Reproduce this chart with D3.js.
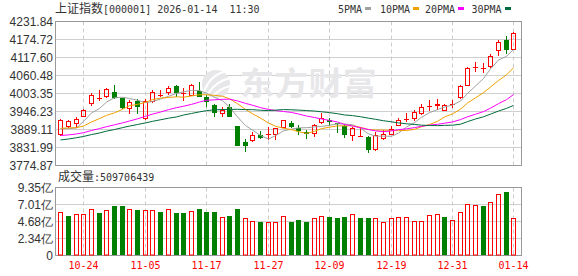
<!DOCTYPE html>
<html>
<head>
<meta charset="utf-8">
<script src="https://cdn.jsdelivr.net/npm/d3@7"></script>
<style>
  html, body { margin: 0; padding: 0; background: #fff; }
  svg { display: block; }
</style>
</head>
<body>
<svg id="chart" width="578" height="276"></svg>
<script>
// trading days shown (2025-10-21 .. 2026-01-14)
const dates = [
  "2025-10-21","2025-10-22","2025-10-23","2025-10-24","2025-10-27","2025-10-28","2025-10-29","2025-10-30","2025-10-31",
  "2025-11-03","2025-11-04","2025-11-05","2025-11-06","2025-11-07","2025-11-10","2025-11-11","2025-11-12","2025-11-13","2025-11-14",
  "2025-11-17","2025-11-18","2025-11-19","2025-11-20","2025-11-21","2025-11-24","2025-11-25","2025-11-26","2025-11-27","2025-11-28",
  "2025-12-01","2025-12-02","2025-12-03","2025-12-04","2025-12-05","2025-12-08","2025-12-09","2025-12-10","2025-12-11","2025-12-12",
  "2025-12-15","2025-12-16","2025-12-17","2025-12-18","2025-12-19","2025-12-22","2025-12-23","2025-12-24","2025-12-25","2025-12-26",
  "2025-12-29","2025-12-30","2025-12-31","2026-01-05","2026-01-06","2026-01-07","2026-01-08","2026-01-09","2026-01-12","2026-01-13","2026-01-14"
];

const openP = [3875.4,3899.7,3910.3,3932.5,3973.7,3988,3996,4009.7,3987.5,3957.9,3978,3926,3979,3998,4008.7,4028.7,4004,4000,4010.8,3991.7,
  3965.3,3942,3961,3899.7,3851,3855.3,3872,3874,3875.4,3897.6,3910.3,3894.4,3881,3878.6,3913.4,3918,3910,3901.8,3872.2,3869,
  3864.8,3827.8,3861.6,3876.4,3904,3922,3925.1,3942,3964,3967,3950.5,3970,3992.8,4031.9,4087,4084,4090.1,4142.5,4173.6,4145.1];
const highP = [3922.9,3920,3929.3,3953,4003.4,4012.9,4020.3,4028.8,3989.6,3981.2,3986.4,3985,4012.9,4016,4026.6,4030,4020,4035,4039.3,3999,
  3971.6,3961,3969.5,3900,3857.4,3882,3882.8,3897.6,3894,3917.7,3914.5,3903.9,3889,3907,3939.9,3926,3911,3908,3897.6,3897.6,
  3868,3881.7,3889,3899.7,3925,3939.9,3950.5,3968.5,3982.2,3985.4,3970,3984.3,4028.8,4086,4102.8,4098.6,4129.2,4172,4185.3,4198];
const lowP = [3872.2,3896,3897.6,3931,3967.4,3981.2,3992.8,3989.6,3957.9,3941,3940,3924,3976.9,3997,4003,3995,3984,3998,3994.9,3963.2,
  3931.4,3931.4,3931.4,3839,3820.4,3853,3862.7,3857.4,3859.5,3896,3897.6,3875.4,3861.6,3868,3911.3,3904,3881,3865.8,3855.3,3868,
  3818.3,3822.5,3859.5,3873.3,3902,3915.6,3918.7,3938.8,3950.5,3954.7,3950.5,3961,3989.6,4030.9,4074.2,4071.1,4088,4126,4131.4,4145.1];
const closeP = [3918.7,3916.6,3922.9,3951.5,3998,3990,4018,3991.7,3960,3976.9,3963.2,3980,4009.7,3999,4020.3,4008.7,4006,4031.9,3997,3978,
  3944.1,3950.5,3933.5,3839.4,3840.5,3872.2,3866,3876,3892.3,3917.7,3899.7,3886,3879,3903.9,3926.1,3917,3909,3876.4,3893.4,3870,
  3827.8,3872.2,3876.4,3891.2,3920.8,3923,3943.1,3961,3965,3969,3966,3971.6,4025.6,4084.8,4088,4084.8,4123.4,4166.8,4144,4194.3];
const prevClose = 3865.5; // close of the day before the first candle

// volume, in 亿
const volume = [6.05,5.50,5.73,5.73,6.42,5.91,6.19,6.87,6.87,6.42,6.32,6.32,6.32,6.05,6.42,5.91,5.91,6.14,6.37,6.05,
  6.05,5.32,5.50,6.46,5.09,4.77,4.67,4.54,4.54,5.45,4.67,4.95,4.54,5.09,5.50,5.36,5.09,5.36,5.73,5.09,
  5.22,5.22,4.67,5.18,5.32,5.32,4.81,4.81,5.59,5.73,5.36,4.95,6.00,7.10,6.97,6.74,7.42,8.48,8.80,5.10];

const ma5 = [3892,3892,3894,3915,3941.5,3955.8,3976.1,3989.8,3991.5,3987.3,3982,3974.4,3978,3985.8,3994.4,4003.5,4008.7,4013.2,4012.8,4004.3,
  3991.4,3980.3,3960.6,3929.1,3901.6,3887.2,3870.3,3858.8,3869.4,3884.8,3890.3,3894.3,3894.9,3897.3,3898.9,3902.4,3907,3906.5,3904.4,3893.2,
  3875.3,3868,3868,3867.5,3877.7,3896.7,3910.9,3927.8,3942.6,3952.2,3960.8,3966.5,3979.4,4003.4,4027.2,4051,4081.3,4109.6,4121.4,4142.7];
const ma10 = [3893,3894,3895,3900,3913,3923.8,3934,3941.9,3953.3,3964.4,3968.9,3975.3,3983.9,3988.7,3990.9,3992.8,3991.6,3995.6,3999.3,3999.4,
  3997.5,3994.5,3986.9,3971,3953,3939.3,3925.3,3909.7,3899.3,3893.2,3888.8,3882.3,3876.9,3883.4,3891.9,3896.4,3900.7,3900.7,3900.9,3896.1,
  3888.9,3887.5,3887.3,3886,3885.5,3886,3889.5,3897.9,3905.1,3915,3928.8,3938.7,3953.6,3973,3989.7,4005.9,4023.9,4044.5,4062.4,4085];
const ma20 = [3870,3872,3875,3879,3886,3892,3898,3904,3910,3916,3923,3931,3938,3944.5,3952.1,3958.4,3962.9,3968.8,3976.3,3981.9,
  3983.2,3984.9,3985.4,3979.9,3972,3966.1,3958.5,3952.7,3949.3,3946.3,3943.2,3938.4,3931.9,3927.2,3922.5,3917.9,3913,3905.2,3900.1,3894.7,
  3888.9,3884.9,3882.1,3884.7,3888.7,3891.2,3895.1,3899.3,3903,3905.6,3908.9,3913.1,3920.5,3929.5,3937.6,3946,3956.7,3971.2,3983.8,4000];
const ma30 = [3856,3859,3863,3867,3873,3878,3884,3889,3895,3900,3905,3910,3915,3920,3925,3929,3935,3940,3945,3949,
  3951.5,3952.5,3953,3953.2,3952.3,3952,3950.3,3949.1,3950.6,3952.3,3951.7,3950.7,3949.2,3947.7,3945.3,3942.8,3939.2,3935.3,3933.2,3929.6,
  3925.1,3921.4,3917,3913.5,3910.1,3907.2,3905.2,3902.8,3901.8,3901.4,3902.2,3902.8,3905.9,3914.1,3922.4,3929.4,3938,3947.7,3956.1,3965.4];

const priceTicks = [3774.87, 3831.99, 3889.11, 3946.23, 4003.35, 4060.48, 4117.60, 4174.72, 4231.84];
const volTicks = [0, 2.34, 4.68, 7.01, 9.35];
const xTickDates = ["2025-10-24","2025-11-05","2025-11-17","2025-11-27","2025-12-09","2025-12-19","2025-12-31","2026-01-14"];

const maNames = ["5PMA", "10PMA", "20PMA", "30PMA"];
const maColors = ["#a0a0a0", "#f0a000", "#ff00ff", "#006b3c"];

const RED = "#ff0000", GREEN = "#008000";
const MONO = "'DejaVu Sans Mono', 'Liberation Mono', monospace";
const CJK = "'Noto Sans CJK SC', sans-serif";
const SANS = "'Liberation Sans', Arial, sans-serif";

const svg = d3.select("#chart");

// layout
const plotL = 55.5, plotR = 521.5;
const mainTop = 21.5, mainBottom = 165.5;
const volTop = 187.5, volBottom = 255.5;

const x = d3.scaleBand().domain(dates).range([56.5, 56.5 + 7.68 * dates.length]);
const cx = d => Math.round(x(d) + x.bandwidth() / 2);

const y = d3.scaleLinear()
  .domain([priceTicks[0], priceTicks[priceTicks.length - 1]])
  .range([mainBottom, mainTop]);
const yv = d3.scaleLinear().domain([0, volTicks[volTicks.length - 1]]).range([volBottom, volTop]);
const snap = v => Math.round(v - 0.5) + 0.5;

// ---- grids
function grid(scale, ticks, top, bottom) {
  const g = svg.append("g");
  g.selectAll("line.h").data(ticks).join("line")
    .attr("x1", plotL).attr("x2", plotR)
    .attr("y1", d => snap(scale(d))).attr("y2", d => snap(scale(d)))
    .attr("stroke", "#cfcfcf");
  g.selectAll("line.v").data(xTickDates).join("line")
    .attr("x1", d => cx(d) + 0.5).attr("x2", d => cx(d) + 0.5)
    .attr("y1", top).attr("y2", bottom)
    .attr("stroke", "#cccccc").attr("stroke-dasharray", "4,3");
  // frame
  g.append("rect").attr("x", plotL).attr("y", top)
    .attr("width", plotR - plotL).attr("height", bottom - top)
    .attr("fill", "none").attr("stroke", "#999");
}
grid(y, priceTicks, mainTop, mainBottom);
grid(yv, volTicks, volTop, volBottom);

// ---- watermark (logo + name)
const WM = "#e7e7ea";
const wm = svg.append("g");
wm.append("circle").attr("cx", 216).attr("cy", 84).attr("r", 14).attr("fill", WM);
wm.append("path")
  .attr("d", "M204,92 C208,80 216,73 228,71 M206,97 C212,86 220,80 231,78 M210,99 C216,92 224,87 231,86")
  .attr("fill", "none").attr("stroke", "#fff").attr("stroke-width", 2.2);
wm.append("text").attr("x", 240).attr("y", 95).attr("fill", WM)
  .attr("font-family", CJK).attr("font-weight", "bold").attr("font-size", 32)
  .attr("textLength", 137).attr("lengthAdjust", "spacingAndGlyphs")
  .text("东方财富");

// ---- candles
const idx = d3.range(dates.length);
const candles = svg.append("g");
idx.forEach(i => {
  const c = cx(dates[i]);
  const up = closeP[i] >= openP[i];
  const col = up ? RED : GREEN;
  const yT = Math.round(y(Math.max(openP[i], closeP[i])));
  const yB = Math.round(y(Math.min(openP[i], closeP[i])));
  const yH = Math.round(y(highP[i]));
  const yL = Math.round(y(lowP[i]));
  if (up) {
    if (yH < yT) candles.append("line").attr("x1", c + 0.5).attr("x2", c + 0.5).attr("y1", yH).attr("y2", yT).attr("stroke", col);
    if (yL > yB) candles.append("line").attr("x1", c + 0.5).attr("x2", c + 0.5).attr("y1", yB + 1).attr("y2", yL + 1).attr("stroke", col);
    if (yB - yT >= 1) {
      candles.append("rect").attr("x", c - 1.5).attr("y", yT + 0.5)
        .attr("width", 4).attr("height", yB - yT)
        .attr("fill", "none").attr("stroke", col);
    } else {
      candles.append("rect").attr("x", c - 2).attr("y", yT).attr("width", 5).attr("height", 1).attr("fill", col);
    }
  } else {
    candles.append("line").attr("x1", c + 0.5).attr("x2", c + 0.5).attr("y1", yH).attr("y2", yL + 1).attr("stroke", col);
    candles.append("rect").attr("x", c - 2).attr("y", yT)
      .attr("width", 5).attr("height", Math.max(1, yB - yT + 1)).attr("fill", col);
  }
});

// ---- moving averages
const maSeries = [ma5, ma10, ma20, ma30];
const line = d3.line().x((d, i) => cx(dates[i]) + 0.5).y(d => y(d));
maSeries.forEach((s, k) => {
  svg.append("path").datum(s).attr("d", line)
    .attr("fill", "none").attr("stroke", maColors[k]).attr("stroke-width", 1);
});

// ---- volume bars (colour by change from previous close)
const vol = svg.append("g");
idx.forEach(i => {
  const c = cx(dates[i]);
  const ref = i === 0 ? prevClose : closeP[i - 1];
  const up = closeP[i] >= ref;
  const yTop = Math.round(yv(volume[i]));
  if (up) {
    vol.append("rect").attr("x", c - 1.5).attr("y", yTop + 0.5)
      .attr("width", 4).attr("height", volBottom - 0.5 - yTop - 0.5)
      .attr("fill", "none").attr("stroke", RED);
  } else {
    vol.append("rect").attr("x", c - 2).attr("y", yTop)
      .attr("width", 5).attr("height", volBottom - 0.5 - yTop).attr("fill", GREEN);
  }
});

// ---- y axes
const axisText = (g) => g.call(a => a.select(".domain").remove())
  .selectAll("text").attr("font-family", SANS).attr("font-size", 12).attr("fill", "#333");

svg.append("g").attr("transform", "translate(54,0)")
  .call(d3.axisLeft(y).tickValues(priceTicks).tickSize(0).tickPadding(1).tickFormat(d3.format(".2f")))
  .call(axisText);

svg.append("g").attr("transform", "translate(54,0)")
  .call(d3.axisLeft(yv).tickValues(volTicks).tickSize(0).tickPadding(1)
    .tickFormat(d => d === 0 ? "0" : d3.format(".2f")(d) + "亿"))
  .call(axisText);

// ---- x axis labels
svg.append("g").selectAll("text").data(xTickDates).join("text")
  .attr("x", d => cx(d) + 0.5).attr("y", 269)
  .attr("text-anchor", "middle")
  .attr("font-family", MONO).attr("font-size", 10).attr("fill", RED)
  .text(d => d.slice(5));

// ---- title and volume caption
const title = svg.append("text").attr("x", 55).attr("y", 13).attr("fill", "#333").attr("xml:space", "preserve");
title.append("tspan").attr("font-family", CJK).attr("font-size", 12).text("上证指数");
title.append("tspan").attr("font-family", MONO).attr("font-size", 10).text("[000001] 2026-01-14  11:30");

const cap = svg.append("text").attr("x", 58).attr("y", 181).attr("fill", "#333");
cap.append("tspan").attr("font-family", CJK).attr("font-size", 12).text("成交量");
cap.append("tspan").attr("font-family", MONO).attr("font-size", 10).text(":509706439");

// ---- legend
const legendX = [338, 380, 425, 471.5];
const legend = svg.append("g");
maNames.forEach((n, k) => {
  const t = legend.append("text").attr("x", legendX[k]).attr("y", 12.5)
    .attr("font-family", MONO).attr("font-size", 10).attr("fill", "#333").text(n);
  const w = t.node().getComputedTextLength();
  legend.append("rect").attr("x", Math.round(legendX[k] + w + 3)).attr("y", 7)
    .attr("width", 6).attr("height", 3).attr("fill", maColors[k]);
});
</script>
</body>
</html>
